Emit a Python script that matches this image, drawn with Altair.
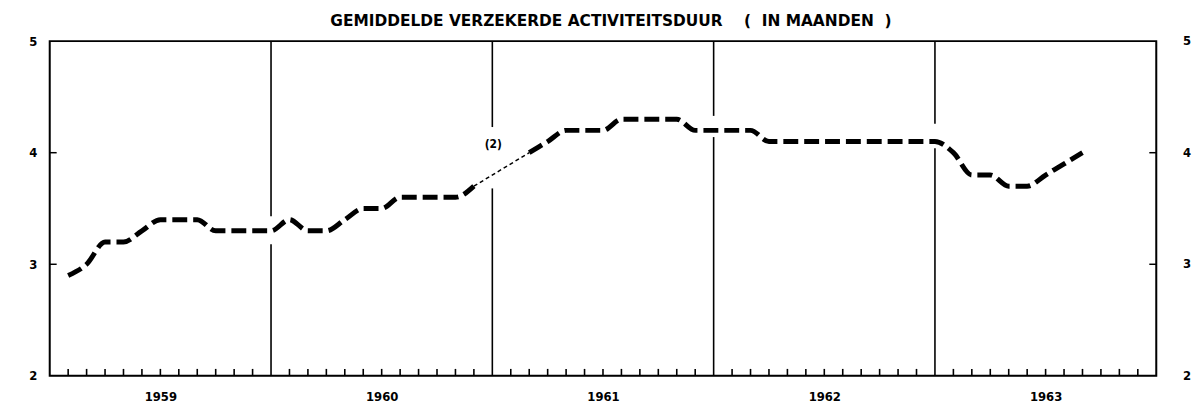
import altair as alt
import pandas as pd

NB = "\u00a0"
TITLE = ("GEMIDDELDE VERZEKERDE ACTIVITEITSDUUR" + NB * 4 + "(" + NB * 2
         + "IN MAANDEN" + NB * 2 + ")")
NOTE = "(2)"

# x = month index counted from January 1959 (0 = start of 1959)
years = [1959, 1960, 1961, 1962, 1963]
year_centres = [6, 18, 30, 42, 54]

months_a = list(range(1, 24))
values_a = [2.9, 3.0, 3.2, 3.2, 3.3, 3.4, 3.4, 3.4, 3.3, 3.3, 3.3, 3.3,
            3.4, 3.3, 3.3, 3.4, 3.5, 3.5, 3.6, 3.6, 3.6, 3.6, 3.7]

months_gap = [23, 26]
values_gap = [3.7, 4.0]

months_b = list(range(26, 57))
values_b = [4.0, 4.1, 4.2, 4.2, 4.2, 4.3, 4.3, 4.3, 4.3, 4.2, 4.2, 4.2, 4.2,
            4.1, 4.1, 4.1, 4.1, 4.1, 4.1, 4.1, 4.1, 4.1, 4.1,
            4.0, 3.8, 3.8, 3.7, 3.7, 3.8, 3.9, 4.0]

divider_months = [12, 24, 36, 48]
divider_gap_low = [3.18, 3.68, 4.14, 4.04]
divider_gap_high = [3.43, 4.23, 4.33, 4.26]

tick_months = [k for k in range(1, 60) if k % 12 != 0]
y_ticks = [3, 4]
y_labels = [2, 3, 4, 5]

note_month = [24]
note_value = [4.08]

W, H = 1114, 337
FONT = "DejaVu Sans Condensed, Liberation Sans Narrow, DejaVu Sans"

xscale = alt.Scale(domain=[0, 60], nice=False, zero=False)
yscale = alt.Scale(domain=[2, 5], nice=False, zero=False)

x_axis = alt.Axis(values=year_centres,
                  labelExpr="'' + (1959 + floor(datum.value / 12))",
                  ticks=False, domain=False, grid=False, title=None,
                  labelFont=FONT, labelFontWeight="bold", labelFontSize=13,
                  labelColor="black", labelPadding=15)
y_axis = alt.Axis(values=y_labels, format="d", ticks=False, orient="left",
                  domain=False, grid=False, title=None,
                  labelFont=FONT, labelFontWeight="bold", labelFontSize=13,
                  labelColor="black", labelPadding=13)


def X(field):
    return alt.X(field, type="quantitative", scale=xscale, axis=x_axis)


def Y(field):
    return alt.Y(field, type="quantitative", scale=yscale, axis=y_axis)


df_a = pd.DataFrame({"m": months_a, "v": values_a})
df_b = pd.DataFrame({"m": months_b, "v": values_b})
df_gap = pd.DataFrame({"m": months_gap, "v": values_gap})
df_div = pd.DataFrame({"m": divider_months, "lo": divider_gap_low,
                       "hi": divider_gap_high, "bottom": [2] * 4, "top": [5] * 4})
df_ticks = pd.DataFrame({"m": tick_months})
df_yt = pd.DataFrame({"v": y_ticks})
df_rl = pd.DataFrame({"v": y_labels, "t": [str(v) for v in y_labels]})
df_note = pd.DataFrame({"m": note_month, "v": note_value, "t": [NOTE]})
df_title = pd.DataFrame({"t": [TITLE]})

frame = alt.Chart(df_title).mark_rect(filled=False, stroke="black", strokeWidth=2).encode(
    x=alt.value(0), x2=alt.value(W), y=alt.value(0), y2=alt.value(H))

title = alt.Chart(df_title).mark_text(font="DejaVu Sans", fontWeight="bold", fontSize=15.5,
                                      color="black", align="center",
                                      baseline="alphabetic").encode(
    x=alt.value(W / 2 + 8), y=alt.value(-15), text="t:N")

div_low = alt.Chart(df_div).mark_rule(color="black", strokeWidth=1.6).encode(
    x=X("m"), y=Y("bottom"), y2="lo:Q")
div_high = alt.Chart(df_div).mark_rule(color="black", strokeWidth=1.6).encode(
    x=X("m"), y=Y("hi"), y2="top:Q")

month_ticks = alt.Chart(df_ticks).mark_rule(color="black", strokeWidth=1.6).encode(
    x=X("m"), y=alt.value(H), y2=alt.value(H - 7))

ytick_left = alt.Chart(df_yt).mark_rule(color="black", strokeWidth=1.5).encode(
    y=Y("v"), x=alt.value(0), x2=alt.value(7))
ytick_right = alt.Chart(df_yt).mark_rule(color="black", strokeWidth=1.5).encode(
    y=Y("v"), x=alt.value(W - 7), x2=alt.value(W))

right_labels = alt.Chart(df_rl).mark_text(font=FONT, fontWeight="bold", fontSize=13,
                                          color="black", align="left",
                                          baseline="middle").encode(
    y=Y("v"), x=alt.value(W + 27), text="t:N")

line_a = alt.Chart(df_a).mark_line(color="black", strokeWidth=5, strokeDash=[15, 6],
                                   interpolate="monotone", strokeCap="butt").encode(
    x=X("m"), y=Y("v"))
line_b = alt.Chart(df_b).mark_line(color="black", strokeWidth=5, strokeDash=[15, 6],
                                   interpolate="monotone", strokeCap="butt").encode(
    x=X("m"), y=Y("v"))
line_gap = alt.Chart(df_gap).mark_line(color="black", strokeWidth=1.5,
                                       strokeDash=[4, 3]).encode(
    x=X("m"), y=Y("v"))

note = alt.Chart(df_note).mark_text(font=FONT, fontWeight="bold", fontSize=12,
                                    color="black", baseline="middle",
                                    align="center", dx=1).encode(
    x=X("m"), y=Y("v"), text="t:N")

chart = alt.layer(line_a, frame, title, div_low, div_high, month_ticks,
                  ytick_left, ytick_right, right_labels,
                  line_gap, line_b, note).properties(
    width=W, height=H,
    padding={"left": 42, "top": 32, "right": 38, "bottom": 30},
    autosize=alt.AutoSizeParams(type="none"),
).configure_view(stroke=None).configure(background="white")

chart.save("out.html", embed_options={"renderer": "svg", "actions": False})
